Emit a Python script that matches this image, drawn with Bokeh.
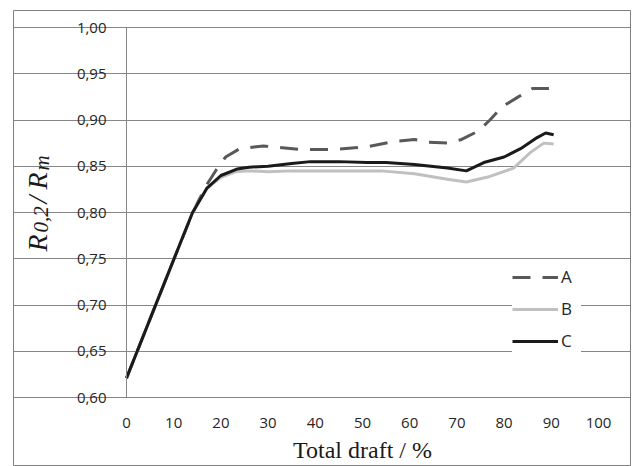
import math
from bokeh.plotting import figure
from bokeh.models import (Range1d, FixedTicker, Label, Legend, LegendItem, LinearAxis)
from bokeh.embed import file_html
from bokeh.resources import INLINE

# ---- data ----
a_x = [0, 5, 10, 13, 15, 17, 19, 21, 24, 29, 33, 37, 44, 51, 57, 61, 64, 68, 71, 74.5, 77, 79.5, 83, 86, 89.5]
a_y = [0.621, 0.685, 0.749, 0.787, 0.810, 0.830, 0.846, 0.860, 0.869, 0.872, 0.870, 0.868, 0.868, 0.871,
       0.877, 0.879, 0.876, 0.875, 0.879, 0.888, 0.900, 0.914, 0.925, 0.934, 0.934]

b_x = [0, 5, 10, 14, 17, 20, 23, 26, 30, 35, 45, 54, 61, 68, 72, 77, 82, 85.6, 88.4, 90.5]
b_y = [0.621, 0.685, 0.749, 0.800, 0.826, 0.838, 0.844, 0.845, 0.844, 0.845, 0.845, 0.845, 0.842,
       0.836, 0.833, 0.839, 0.848, 0.865, 0.875, 0.874]

c_x = [0, 5, 10, 14, 17, 20, 23.4, 26, 30, 35, 39, 45, 51, 55, 61, 68, 72, 75.7, 80, 83.5, 87, 88.8, 90.5]
c_y = [0.621, 0.685, 0.749, 0.800, 0.826, 0.840, 0.847, 0.849, 0.850, 0.853, 0.855, 0.855, 0.854,
       0.854, 0.852, 0.848, 0.845, 0.854, 0.860, 0.869, 0.881, 0.886, 0.884]

series_names = ["A", "B", "C"]

x_ticks = [0, 10, 20, 30, 40, 50, 60, 70, 80, 90, 100]
x_tick_labels = ["0", "10", "20", "30", "40", "50", "60", "70", "80", "90", "100"]
y_ticks = [0.60, 0.65, 0.70, 0.75, 0.80, 0.85, 0.90, 0.95, 1.00]
y_tick_labels = ["0,60", "0,65", "0,70", "0,75", "0,80", "0,85", "0,90", "0,95", "1,00"]

x_title = "Total draft / %"

GRID = "#868686"
TXT = "#262626"

# ---- layout geometry (pixels) ----
W, H = 632, 466
frame_l, frame_t, frame_r, frame_b = 13, 10, 630, 466   # outer box of the chart
plot_l, plot_r, plot_t, plot_b = 126, 598, 27, 397      # plot area inside the box
x0, x1 = x_ticks[0], x_ticks[-1]
y0, y1 = y_ticks[0], y_ticks[-1]
sx = (plot_r - plot_l) / (x1 - x0)
sy = (plot_b - plot_t) / (y1 - y0)
xr = Range1d(x0 - (plot_l - frame_l) / sx, x1 + (frame_r - plot_r) / sx)
yr = Range1d(y0 - (frame_b - plot_b) / sy, y1 + (plot_t - frame_t) / sy)

p = figure(width=W, height=H, output_backend="svg", toolbar_location=None,
           x_range=xr, y_range=yr, x_axis_location=None, y_axis_location=None,
           min_border_left=frame_l, min_border_right=W - frame_r,
           min_border_top=frame_t, min_border_bottom=H - frame_b)
p.background_fill_color = "white"
p.border_fill_color = "white"
p.outline_line_color = "#7f7f7f"
p.outline_line_width = 1

xaxis = LinearAxis(fixed_location=y0, bounds=(x0, x1), ticker=FixedTicker(ticks=x_ticks))
yaxis = LinearAxis(fixed_location=x0, bounds=(y0, y1), ticker=FixedTicker(ticks=y_ticks))
p.add_layout(xaxis, "below")
p.add_layout(yaxis, "left")
xaxis.major_label_overrides = {t: l for t, l in zip(x_ticks, x_tick_labels)}
yaxis.major_label_overrides = {t: l for t, l in zip(y_ticks, y_tick_labels)}

for ax in (xaxis, yaxis):
    ax.axis_line_color = GRID
    ax.axis_line_width = 1
    ax.major_tick_line_color = None
    ax.minor_tick_line_color = None
    ax.major_tick_out = 0
    ax.major_tick_in = 0
    ax.minor_tick_out = 0
    ax.minor_tick_in = 0
    ax.major_label_text_font = "Open Sans"
    ax.major_label_text_font_size = "15px"
    ax.major_label_text_color = TXT

yaxis.major_label_standoff = 20
xaxis.major_label_standoff = 20
xaxis.axis_label = x_title
xaxis.axis_label_text_font = "Liberation Serif"
xaxis.axis_label_text_font_style = "normal"
xaxis.axis_label_text_font_size = "24px"
xaxis.axis_label_text_color = "#1a1a1a"
xaxis.axis_label_standoff = 6

p.xgrid.grid_line_color = None
p.ygrid.grid_line_color = GRID
p.ygrid.grid_line_width = 1
p.ygrid.ticker = FixedTicker(ticks=y_ticks)
p.ygrid.bounds = (x0, x1)

rA = p.line(a_x, a_y, line_color="#595959", line_width=3, line_dash="18 12")
rB = p.line(b_x, b_y, line_color="#c0c0c0", line_width=3)
rC = p.line(c_x, c_y, line_color="#1a1a1a", line_width=3)

legend = Legend(items=[LegendItem(label=series_names[0], renderers=[rA]),
                       LegendItem(label=series_names[1], renderers=[rB]),
                       LegendItem(label=series_names[2], renderers=[rC])],
                location=(499, 114), padding=6, spacing=9, margin=0,
                glyph_width=46, glyph_height=20, label_height=20, label_standoff=3,
                border_line_color=None, background_fill_color="white", background_fill_alpha=1.0,
                label_text_font="Open Sans", label_text_font_size="17px", label_text_color=TXT)
p.add_layout(legend, "center")

# y axis title built from pieces (italic R with subscripts), rotated
# (text, page x of baseline, page y of start, font size)
ytitle_parts = [("R", 37, 251, "28px"), ("0,2", 40, 232, "21px"), ("/", 37, 203, "28px"),
                ("R", 37, 189, "28px"), ("m", 41, 170, "21px")]
for txt, px, py, fs in ytitle_parts:
    p.add_layout(Label(x=px - frame_l, y=frame_b - py, x_units="screen", y_units="screen", text=txt,
                       angle=math.pi / 2, text_font="Liberation Serif", text_font_style="italic",
                       text_font_size=fs, text_color="#1a1a1a",
                       text_align="left", text_baseline="alphabetic"))

open("out.html", "w").write(file_html(p, INLINE))
